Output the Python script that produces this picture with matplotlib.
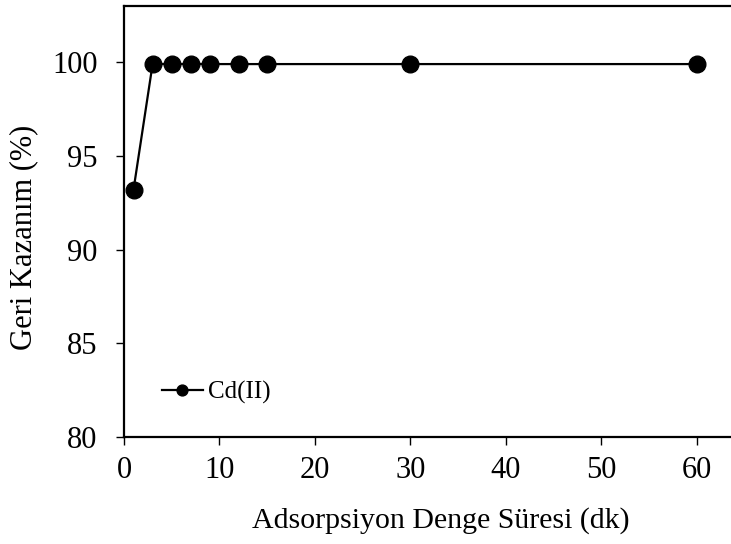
import matplotlib.pyplot as plt

# Data
time_min = [1, 3, 5, 7, 9, 12, 15, 30, 60]
recovery = [93.2, 99.9, 99.9, 99.9, 99.9, 99.9, 99.9, 99.9, 99.9]
series_label = "Cd(II)"
x_ticks = [0, 10, 20, 30, 40, 50, 60]
y_ticks = [80, 85, 90, 95, 100]

plt.rcParams["font.family"] = ["Liberation Serif", "DejaVu Serif"]

fig = plt.figure(figsize=(7.31, 5.44), dpi=100)
ax = fig.add_axes([0.1696, 0.1967, 0.8304, 0.7923])

ax.plot(time_min, recovery, color="black", lw=1.6, marker="o",
        markersize=12, label=series_label)

ax.set_xlim(0, 63.6)
ax.set_ylim(80, 103)
ax.set_xticks(x_ticks)
ax.set_yticks(y_ticks)
ax.tick_params(axis="both", labelsize=22, direction="out", length=6,
               width=1)
ax.tick_params(axis="y", pad=13)
ax.tick_params(axis="x", pad=8)

for side in ["left", "bottom", "top"]:
    ax.spines[side].set_linewidth(1.6)
ax.spines["right"].set_visible(False)

ax.set_xlabel("Adsorpsiyon Denge Süresi (dk)", fontsize=21.5)
ax.set_ylabel("Geri Kazanım (%)", fontsize=22)
ax.xaxis.set_label_coords(0.522, -0.162)
ax.yaxis.set_label_coords(-0.142, 0.464)

ax.legend(loc="center left", bbox_to_anchor=(0.0626, 0.104), frameon=False,
          fontsize=18, handlelength=1.64, handletextpad=0.2, markerscale=0.65,
          borderpad=0, borderaxespad=0)

fig.savefig("out.png", dpi=100)
